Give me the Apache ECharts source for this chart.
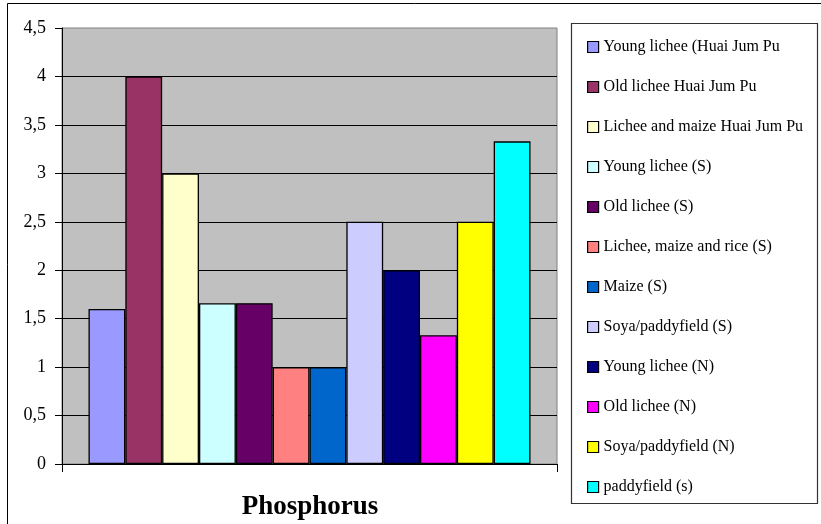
<!DOCTYPE html>
<html>
<head>
<meta charset="utf-8">
<style>
  html, body { margin: 0; padding: 0; background: #fff; }
  #chart { width: 821px; height: 524px; }
</style>
<script src="https://cdn.jsdelivr.net/npm/echarts@6/dist/echarts.min.js"></script>
</head>
<body>
<div id="chart"></div>
<script>
// Phosphorus content per land-use type
const categories = ['Phosphorus'];
const seriesNames = [
  'Young lichee (Huai Jum Pu',
  'Old lichee Huai Jum Pu',
  'Lichee and maize Huai Jum Pu',
  'Young lichee (S)',
  'Old lichee (S)',
  'Lichee, maize and rice (S)',
  'Maize (S)',
  'Soya/paddyfield (S)',
  'Young lichee (N)',
  'Old lichee (N)',
  'Soya/paddyfield (N)',
  'paddyfield (s)'
];
const seriesValues = [1.6, 4.0, 3.0, 1.66, 1.66, 1.0, 1.0, 2.5, 2.0, 1.33, 2.5, 3.33];
const seriesColors = [
  '#9999FF', '#993366', '#FFFFCC', '#CCFFFF', '#660066', '#FF8080',
  '#0066CC', '#CCCCFF', '#000080', '#FF00FF', '#FFFF00', '#00FFFF'
];
const yTicks = { min: 0, max: 4.5, interval: 0.5 };

const serif = '"Liberation Serif", "DejaVu Serif", serif';

const chart = echarts.init(document.getElementById('chart'), null, { renderer: 'canvas' });

const series = seriesNames.map((name, i) => ({
  name: name,
  type: 'bar',
  data: [seriesValues[i]],
  barGap: '0%',
  barCategoryGap: '10.7%',
  itemStyle: { color: seriesColors[i], borderColor: '#000', borderWidth: 1.3 },
  emphasis: { disabled: true }
}));

chart.setOption({
  animation: false,
  backgroundColor: '#fff',
  title: {
    text: 'Phosphorus',
    left: 305,
    top: 489,
    textAlign: 'center',
    textStyle: { fontFamily: serif, fontSize: 27, fontWeight: 'bold', color: '#000' }
  },
  grid: {
    left: 62, right: 264, top: 28, bottom: 60,
    show: true, backgroundColor: '#C0C0C0', borderColor: '#808080', borderWidth: 1
  },
  xAxis: {
    type: 'category',
    data: categories,
    axisLine: { show: true, lineStyle: { color: '#000', width: 1 } },
    axisTick: { show: true, length: 8, lineStyle: { color: '#000' } },
    axisLabel: { show: false },
    splitLine: { show: false }
  },
  yAxis: {
    type: 'value',
    min: yTicks.min, max: yTicks.max, interval: yTicks.interval,
    axisLine: { show: true, lineStyle: { color: '#000', width: 1 } },
    axisTick: { show: true, length: 7, lineStyle: { color: '#000' } },
    axisLabel: {
      margin: 16,
      fontFamily: serif, fontSize: 18, color: '#000',
      formatter: v => String(v).replace('.', ',')
    },
    splitLine: { show: true, showMaxLine: false, lineStyle: { color: '#000', width: 1 } }
  },
  legend: {
    orient: 'vertical',
    left: 587,
    top: 38,
    padding: 0,
    itemWidth: 11,
    itemHeight: 11,
    itemGap: 22,
    icon: 'rect',
    selectedMode: false,
    itemStyle: { borderColor: '#000', borderWidth: 1.2 },
    textStyle: { fontFamily: serif, fontSize: 16, color: '#000', lineHeight: 18 },
    data: seriesNames
  },
  graphic: [
    {
      type: 'rect',
      shape: { x: 7.5, y: 3.5, width: 840, height: 560 },
      style: { fill: null, stroke: '#000', lineWidth: 1 },
      silent: true
    },
    {
      type: 'rect',
      shape: { x: 571.5, y: 23.5, width: 246, height: 480 },
      style: { fill: '#fff', stroke: '#333', lineWidth: 1.2 },
      silent: true,
      z: -1
    }
  ],
  series: series
});
</script>
</body>
</html>
